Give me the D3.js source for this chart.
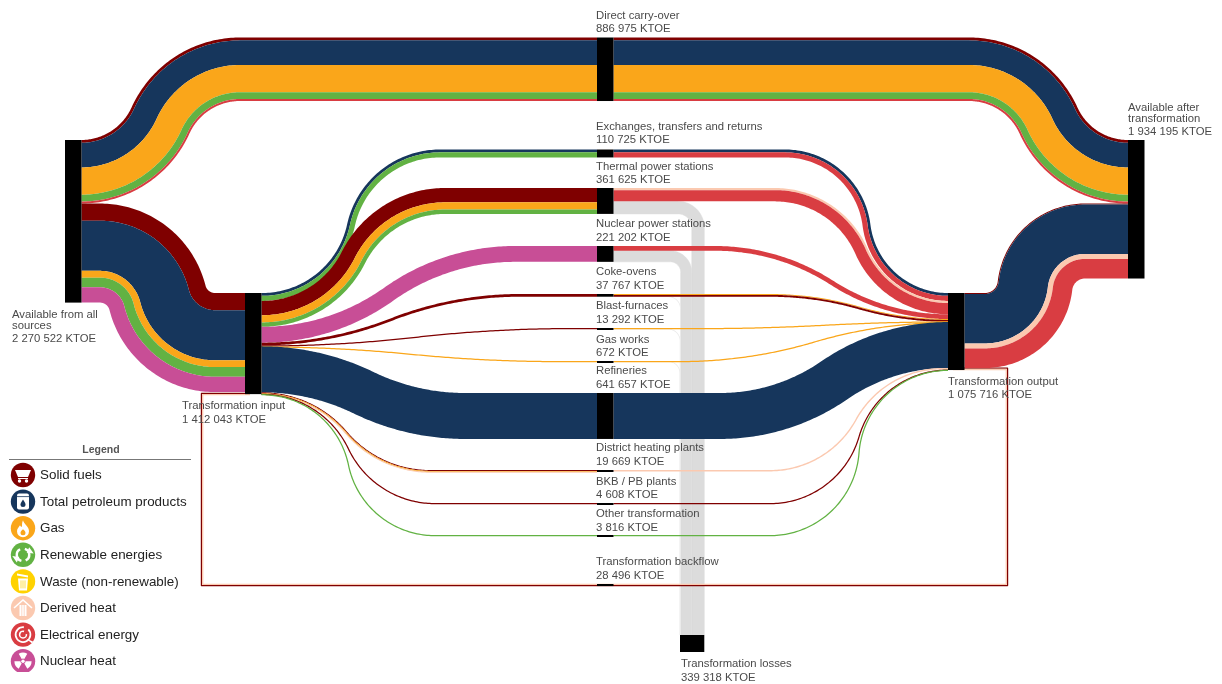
<!DOCTYPE html>
<html><head><meta charset="utf-8">
<script src="https://cdn.jsdelivr.net/npm/d3@7/dist/d3.min.js"></script>
<style>
html,body{margin:0;padding:0;background:#fff;overflow:hidden}
svg{display:block;filter:blur(0.35px)}
text{font-family:"Liberation Sans",Arial,sans-serif}
</style></head><body>
<svg id="c" width="1222" height="684"></svg>
<script>
// ---------- DATA ----------
const carrierNames = ["Solid fuels","Total petroleum products","Gas","Renewable energies","Waste (non-renewable)","Derived heat","Electrical energy","Nuclear heat"];
const [SOL,PET,GAS,REN,WST,DER,ELE,NUC] = d3.range(8);

const nodeIds = ["available","input","output","after","direct","exchanges","thermal","nuclear","coke","blast","gasworks","refineries","district","bkb","other","backflow","losses"];
const nodeTitles = ["Available from all\nsources","Transformation input","Transformation output","Available after\ntransformation","Direct carry-over","Exchanges, transfers and returns","Thermal power stations","Nuclear power stations","Coke-ovens","Blast-furnaces","Gas works","Refineries","District heating plants","BKB / PB plants","Other transformation","Transformation backflow","Transformation losses"];
const nodeValues = [2270522,1412043,1075716,1934195,886975,110725,361625,221202,37767,13292,672,641657,19669,4608,3816,28496,339318];

const linkFrom = ["available","available","input","input","input","input","input","input","input","input","input","input","direct","output","exchanges","thermal","nuclear","coke","blast","gasworks","refineries","district","bkb","other"];
const linkTo   = ["direct","input","exchanges","thermal","nuclear","coke","blast","gasworks","refineries","district","bkb","other","after","after","output","output","output","output","output","output","output","output","output","output"];
const linkCarriers = [
 [SOL,PET,GAS,REN,ELE],[SOL,PET,GAS,REN,NUC],[PET,REN],[SOL,GAS,REN],[NUC],[SOL],[SOL],[GAS],[PET],[SOL,GAS,DER],[SOL],[REN],
 [SOL,PET,GAS,REN,ELE],[SOL,PET,DER,ELE],[PET,ELE],[DER,ELE],[ELE],[GAS,SOL],[GAS],[GAS],[PET],[DER],[SOL],[REN]];
const linkValues = [
 [40000,343975,380000,95000,28000],[240000,700000,95000,135000,213547],[40000,70725],[200000,100000,61625],[221202],[37767],[13292],[672],[641657],[8000,8000,3669],[4608],[3816],
 [40000,343975,380000,95000,28000],[14000,690000,70000,273220],[40000,70725],[30000,156625],[66202],[6000,26249],[9792],[372],[641657],[19669],[4608],[3816]];

const lossFrom = ["thermal","nuclear","coke","blast","gasworks"];
const lossValues = [175000,155000,5518,3500,300];
const backflowCarriers = [SOL,DER];
const backflowValues = [14000,14496];

// ---------- LAYOUT & STYLE ----------
const carrierColors = ["#7f0000","#16365c","#faa61a","#62b243","#ffd200","#fbc9b0","#d93d42","#c84e96"];
const nodeLeft  = {available:65,input:245,output:948,after:1128,losses:680};
const middleLeft = 597, nodeWidth = 16.5;
const nodeTop = {available:140,input:293,output:293,after:140,direct:37.5,exchanges:149.5,thermal:188,nuclear:246,coke:294,blast:328,gasworks:361,refineries:393,district:470,bkb:503,other:535,backflow:584,losses:635};
const linkCurveStart = [81,100,262,262,262,262,262,262,262,262,262,262,969,985,785,775,715,770,700,680,720,770,770,770];
const linkCurveEnd   = [240,215,440,445,515,520,570,560,465,430,435,435,1128,1085,948,948,948,948,948,948,948,942,948,948];
const lossRadius = [20,16,12,12,12];
const labelX = {available:12,input:182,output:948,after:1128,direct:596,exchanges:596,thermal:596,nuclear:596,coke:596,blast:596,gasworks:596,refineries:596,district:596,bkb:596,other:596,backflow:596,losses:681};
const labelY = {available:[314,325,338],input:[405,419],output:[381,394],after:[107,118,131],direct:[15,28],exchanges:[126,139],thermal:[166,179],nuclear:[223,237],coke:[271,285],blast:[305,319],gasworks:[339,352],refineries:[370,384],district:[447,461],bkb:[481,494],other:[513,527],backflow:[561,575],losses:[663,677]};
const legendRowStart = 475, legendRowStep = 26.6;

const thick = d3.scaleLinear().domain([0,2270522]).range([0,162.6]);
const svg = d3.select("#c");
const fmt = v => String(v).replace(/\B(?=(\d{3})+(?!\d))/g," ");
const left = id => nodeLeft[id] ?? middleLeft;
const idx = id => nodeIds.indexOf(id);
const height = id => Math.max(2, thick(nodeValues[idx(id)]));
const line = d3.line().x(p=>p[0]).y(p=>p[1]);
const drawn = vals => vals.map(v=>Math.max(vals.length>1?0.9:1.25,thick(v)));

// centreline of an S-shaped flow: two tangent circular arcs between horizontal stubs
function centre(x0,y0,xa,xb,y1,x1){
  const pts=[{x:x0,y:y0,nx:0,ny:1}];
  const dx=xb-xa, dy=y1-y0, s=dy<0?-1:1, ady=Math.abs(dy);
  if(ady>0.01){
    const R=(dx*dx+dy*dy)/(4*ady), th=2*Math.atan(ady/dx), n=60;
    d3.range(n+1).forEach(i=>{const t=th*i/n;
      pts.push({x:xa+R*Math.sin(t),y:y0+s*R*(1-Math.cos(t)),nx:-s*Math.sin(t),ny:Math.cos(t)});});
    d3.range(n+1).forEach(i=>{const t=th*(n-i)/n;
      pts.push({x:xb-R*Math.sin(t),y:y1-s*R*(1-Math.cos(t)),nx:-s*Math.sin(t),ny:Math.cos(t)});});
  }
  pts.push({x:x1,y:y1,nx:0,ny:1});
  return pts;
}
function ribbon(pts,a,b,color,g,seal){
  const top=pts.map(p=>[p.x+p.nx*a,p.y+p.ny*a]);
  const bot=pts.map(p=>[p.x+p.nx*b,p.y+p.ny*b]).reverse();
  const r=g.append("path").attr("d",line(top.concat(bot))+"Z").attr("fill",color);
  if(seal) r.attr("stroke",color).attr("stroke-width",seal);
}
function band(pts,carriers,values,g){
  const widths=drawn(values);
  const total=d3.sum(widths); let off=-total/2;
  carriers.forEach((c,i)=>{ribbon(pts,off,off+widths[i],carrierColors[c],g);off+=widths[i];});
}

// stacks
const outOff={},inOff={};
nodeIds.forEach(id=>{outOff[id]=0;inOff[id]=0;});
const flows=linkFrom.map((f,i)=>{
  const t=linkTo[i], vals=linkValues[i], sum=d3.sum(vals), tw=d3.sum(drawn(vals));
  const y0=nodeTop[f]+outOff[f]+tw/2, y1=nodeTop[t]+inOff[t]+tw/2;
  outOff[f]+=thick(sum); inOff[t]+=thick(sum);
  return {i,f,t,y0,y1};
});

const gLoss=svg.append("g"), gBack=svg.append("g"), gFlow=svg.append("g"), gNode=svg.append("g"), gText=svg.append("g");

// losses: stack into the vertical trunk from its right edge
let trunk=nodeLeft.losses+thick(nodeValues[idx("losses")]);
lossFrom.forEach((f,i)=>{
  const w=Math.max(i<2?0:0.8,thick(lossValues[i])), R=lossRadius[i];
  const tw=thick(lossValues[i]);
  const y=nodeTop[f]+outOff[f]+w/2, xt=trunk-tw/2, xa=xt-R, n=40;
  const pts=[{x:middleLeft+nodeWidth,y,nx:0,ny:1}];
  d3.range(n+1).forEach(k=>{const t=Math.PI/2*k/n;
    pts.push({x:xa+R*Math.sin(t),y:y+R*(1-Math.cos(t)),nx:-Math.sin(t),ny:Math.cos(t)});});
  pts.push({x:xt,y:nodeTop.losses,nx:-1,ny:0});
  ribbon(pts,-w/2,w/2,i<2?"#dcdcdc":"#ebebeb",gLoss,i<2?0.5:0);
  trunk-=tw;
});

// backflow: loop round the chart from the output to the input
const loopRight=1008.2, loopBottom=586.2, loopLeft=200.8, loopTopR=367.6, loopTopL=392.8;
let inset=0;
backflowCarriers.forEach((c,i)=>{
  const w=thick(backflowValues[i])*1.25, d=inset+w/2;
  gBack.append("path").attr("d",line([[nodeLeft.output+5,loopTopR+d],[loopRight-d,loopTopR+d],[loopRight-d,loopBottom-d],[loopLeft+d,loopBottom-d],[loopLeft+d,loopTopL+d],[nodeLeft.input+5,loopTopL+d]]))
    .attr("fill","none").attr("stroke",carrierColors[c]).attr("stroke-width",w).attr("stroke-linejoin","round");
  inset+=w;
});

// flows
flows.forEach(fl=>{
  const g=gFlow.append("g");
  const x0=left(fl.f)+nodeWidth, x1=left(fl.t);
  band(centre(x0,fl.y0,linkCurveStart[fl.i],linkCurveEnd[fl.i],fl.y1,x1),linkCarriers[fl.i],linkValues[fl.i],g);
});

// nodes
nodeIds.forEach(id=>{
  const isLoss=id==="losses";
  gNode.append("rect").attr("x",left(id)).attr("y",nodeTop[id])
    .attr("width",isLoss?thick(nodeValues[idx(id)]):nodeWidth)
    .attr("height",isLoss?17:height(id)).attr("fill","#000");
});

// labels
nodeIds.forEach((id,i)=>{
  const lines=nodeTitles[i].split("\n").concat(fmt(nodeValues[i])+" KTOE");
  lines.forEach((s,k)=>gText.append("text").attr("x",labelX[id]).attr("y",labelY[id][k]).attr("dy","0.35em")
    .attr("font-size",11.3).attr("fill","#4a4a4a").text(s));
});

// legend
const lg=svg.append("g");
svg.append("clipPath").attr("id","lc").append("rect").attr("x",0).attr("y",440).attr("width",200).attr("height",232);
lg.attr("clip-path","url(#lc)");
lg.append("text").attr("x",101).attr("y",449).attr("dy","0.35em").attr("text-anchor","middle").attr("font-size",10.5).attr("font-weight","bold").attr("fill","#555").text("Legend");
lg.append("line").attr("x1",9).attr("x2",191).attr("y1",459.5).attr("y2",459.5).attr("stroke","#777").attr("stroke-width",1);
const icons=[
 g=>{g.append("path").attr("d","M-8,-5H8L5,2H-5Z").attr("fill","#fff");g.append("path").attr("d","M-5,3.5H5").attr("stroke","#fff");
     g.append("circle").attr("cx",-3.5).attr("cy",6).attr("r",1.7).attr("fill","#fff");g.append("circle").attr("cx",3.5).attr("cy",6).attr("r",1.7).attr("fill","#fff");},
 g=>{g.append("rect").attr("x",-6).attr("y",-8).attr("width",12).attr("height",16).attr("rx",2).attr("fill","#fff");
     g.append("path").attr("d","M0,-2C2,1 2.5,2 2.5,3A2.5,2.5 0 0 1 -2.5,3C-2.5,2 -2,1 0,-2Z").attr("fill",carrierColors[PET]);
     g.append("path").attr("d","M-6,-5H6").attr("stroke",carrierColors[PET]).attr("stroke-width",0.8);},
 g=>{g.append("path").attr("d","M0,-8C1,-4 6,-2 6,3A6,6 0 0 1 -6,3C-6,0 -4,-1 -3,-3C-2,-1 -1,-1 -1,-2C-1,-4 -1,-6 0,-8Z").attr("fill","#fff");
     g.append("path").attr("d","M0,1C1,2 2.5,3 2.5,4.5A2.5,2.5 0 0 1 -2.5,4.5C-2.5,3 -1,2 0,1Z").attr("fill",carrierColors[GAS]);},
 g=>{const a=d3.arc().innerRadius(5).outerRadius(7.5);
     [[0.3,2.7],[3.4,5.8]].forEach(p=>g.append("path").attr("d",a({startAngle:p[0],endAngle:p[1]})).attr("fill","#fff"));
     g.append("path").attr("d","M4,-9L10,-4L3,-3Z").attr("fill","#fff").attr("transform","rotate(15)");
     g.append("path").attr("d","M-4,9L-10,4L-3,3Z").attr("fill","#fff").attr("transform","rotate(15)");},
 g=>{g.append("path").attr("d","M-5,-3H5L4,9H-4Z").attr("fill","#fff");
     g.append("path").attr("d","M-6,-8L5,-6L5,-4L-6,-6Z").attr("fill","#fff");
     g.append("path").attr("d","M-2,-1V7M0,-1V7M2,-1V7").attr("stroke",carrierColors[WST]).attr("stroke-width",0.7);},
 g=>{g.append("path").attr("d","M-9,0L0,-8L9,0").attr("fill","none").attr("stroke","#fff").attr("stroke-width",1.6);
     g.append("rect").attr("x",-3.5).attr("y",-3).attr("width",7).attr("height",11).attr("fill","#fff");
     g.append("path").attr("d","M-1.2,-3V8M1.2,-3V8").attr("stroke",carrierColors[DER]).attr("stroke-width",0.7);},
 g=>{g.append("path").attr("d",d3.arc().innerRadius(6.5).outerRadius(8.3)({startAngle:0.8,endAngle:6.4})).attr("fill","#fff");
     g.append("path").attr("d",d3.arc().innerRadius(2.6).outerRadius(4.2)({startAngle:1.4,endAngle:6.6})).attr("fill","#fff");
     g.append("path").attr("d","M3,4L10,7L9,9Z").attr("fill","#fff");},
 g=>{const a=d3.arc().innerRadius(2.6).outerRadius(8.6);
     [0,2.094,4.189].forEach(s=>g.append("path").attr("d",a({startAngle:s-0.52,endAngle:s+0.52})).attr("fill","#fff"));
     g.append("circle").attr("r",1.7).attr("fill","#fff");}
];
carrierNames.forEach((n,i)=>{
  const y=legendRowStart+i*legendRowStep;
  const g=lg.append("g").attr("transform",`translate(23,${y})`);
  g.append("circle").attr("r",12.2).attr("fill",carrierColors[i]);
  icons[i](g);
  lg.append("text").attr("x",40).attr("y",y-0.5).attr("dy","0.35em").attr("font-size",13.4).attr("fill","#222").text(n);
});
</script>
</body></html>
